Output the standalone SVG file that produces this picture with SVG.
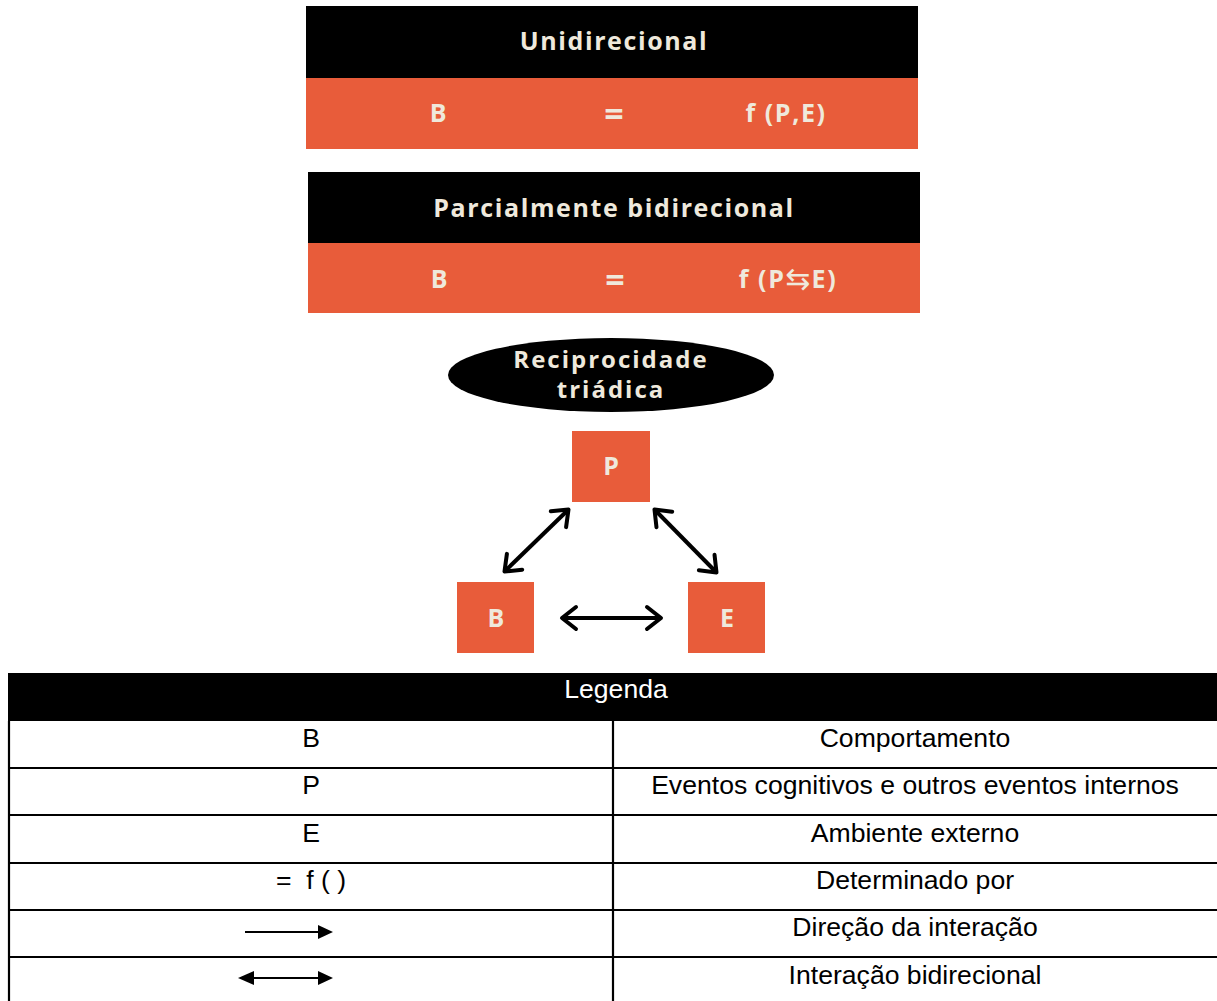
<svg xmlns="http://www.w3.org/2000/svg" width="1217" height="1001" viewBox="0 0 1217 1001">
<style>
.blk{fill:#000}
.org{fill:#e85c3a}
.hd{font-family:"Open Sans","DejaVu Sans",sans-serif;font-weight:700;font-size:25px;letter-spacing:1.6px;fill:#efe9dc;text-anchor:middle}
.eq{font-family:"Open Sans","DejaVu Sans",sans-serif;font-weight:700;font-size:34px;fill:#efe9dc;text-anchor:middle}
.el{font-family:"Open Sans","DejaVu Sans",sans-serif;font-weight:700;font-size:24px;letter-spacing:2px;fill:#efe9dc;text-anchor:middle}
.sq{font-family:"Open Sans","DejaVu Sans",sans-serif;font-weight:700;font-size:25px;fill:#efe9dc;text-anchor:middle}
.lg{font-family:"Liberation Sans",Arial,sans-serif;font-size:26.6px;fill:#000;text-anchor:middle}
.conn{stroke:#000;stroke-width:4;fill:none}
.grid{stroke:#000;stroke-width:2.2;fill:none}
</style>
<defs>
<marker id="chev" markerUnits="userSpaceOnUse" viewBox="-20 -15 24 30" refX="0" refY="0" markerWidth="24" markerHeight="30" orient="auto-start-reverse">
<path d="M-14,-11 L0,0 L-14,11" fill="none" stroke="#000" stroke-width="4" stroke-linecap="round" stroke-linejoin="round"/>
</marker>
</defs>

<g id="unidirecional">
<rect class="blk" x="306" y="6" width="612" height="72"/>
<rect class="org" x="306" y="78" width="612" height="71"/>
<text class="hd" x="614" y="50">Unidirecional</text>
<text class="hd" x="439" y="122">B</text>
<text class="eq" x="614" y="126">=</text>
<text class="hd" x="786" y="122">f (P,E)</text>
</g>

<g id="parcialmente">
<rect class="blk" x="308" y="172" width="612" height="71"/>
<rect class="org" x="308" y="243" width="612" height="70"/>
<text class="hd" x="614" y="217">Parcialmente bidirecional</text>
<text class="hd" x="440" y="288">B</text>
<text class="eq" x="615" y="292">=</text>
<text class="hd" x="788" y="288">f (P<tspan font-family="DejaVu Sans" font-weight="400" font-size="30" letter-spacing="1" dy="1">⇆</tspan><tspan dy="-1">E)</tspan></text>
</g>

<g id="reciprocidade">
<ellipse class="blk" cx="611" cy="375" rx="163" ry="37"/>
<text class="el" x="611" y="368">Reciprocidade</text>
<text class="el" x="611" y="398">triádica</text>
</g>

<g id="node-P">
<rect class="org" x="572" y="431" width="78" height="71"/>
<text class="sq" x="611" y="475">P</text>
</g>
<g id="node-B">
<rect class="org" x="457" y="582" width="77" height="71"/>
<text class="sq" x="496" y="627">B</text>
</g>
<g id="node-E">
<rect class="org" x="688" y="582" width="77" height="71"/>
<text class="sq" x="727" y="627">E</text>
</g>

<g id="connectors">
<line class="conn" x1="504.5" y1="571.5" x2="568.5" y2="509.5" marker-start="url(#chev)" marker-end="url(#chev)"/>
<line class="conn" x1="654.5" y1="509.5" x2="716.5" y2="572.5" marker-start="url(#chev)" marker-end="url(#chev)"/>
<line class="conn" x1="562" y1="618" x2="661" y2="618" marker-start="url(#chev)" marker-end="url(#chev)"/>
</g>

<g id="legenda">
<rect class="blk" x="8" y="673" width="1209" height="48"/>
<text class="lg" x="616" y="698" style="fill:#fff">Legenda</text>
<path class="grid" d="M9,721 V1001 M613,721 V1001 M9,768 H1217 M9,815 H1217 M9,863 H1217 M9,910 H1217 M9,957 H1217"/>
<text class="lg" x="311" y="747">B</text>
<text class="lg" x="915" y="747">Comportamento</text>
<text class="lg" x="311" y="794">P</text>
<text class="lg" x="915" y="794">Eventos cognitivos e outros eventos internos</text>
<text class="lg" x="311" y="842">E</text>
<text class="lg" x="915" y="842">Ambiente externo</text>
<text class="lg" x="311" y="889">=&#160; f ( )</text>
<text class="lg" x="915" y="889">Determinado por</text>
<line x1="245" y1="932" x2="319" y2="932" stroke="#000" stroke-width="2"/>
<polygon points="318,925 333,932 318,939" fill="#000"/>
<text class="lg" x="915" y="936">Direção da interação</text>
<line x1="253" y1="978" x2="319" y2="978" stroke="#000" stroke-width="2"/>
<polygon points="254,971 238,978 254,985" fill="#000"/>
<polygon points="318,971 333,978 318,985" fill="#000"/>
<text class="lg" x="915" y="984">Interação bidirecional</text>
</g>
</svg>
